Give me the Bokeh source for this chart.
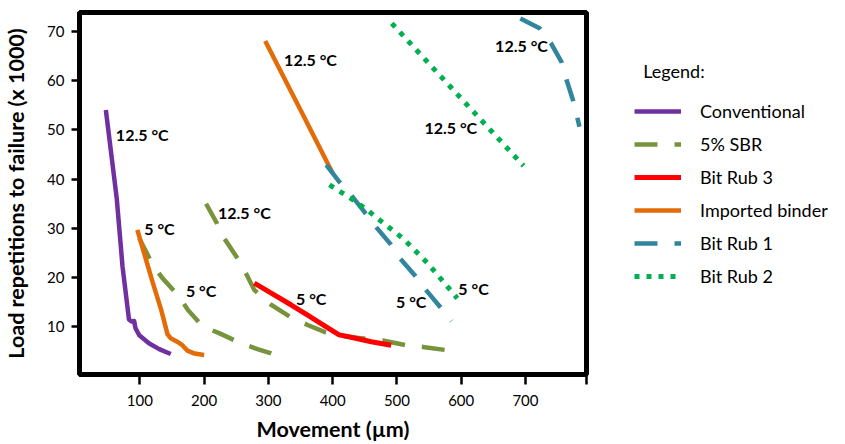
import numpy as np
from bokeh.plotting import figure
from bokeh.models import (ColumnDataSource, Legend, LegendItem, FixedTicker)
from bokeh.core.properties import value
from bokeh.embed import file_html
from bokeh.resources import INLINE

# ---------------- data ----------------
# Conventional
conv_125_x = [47, 64, 73, 83, 87, 91, 93, 99, 114, 130, 148]
conv_125_y = [54, 36, 22.2, 11.5, 11.1, 11.2, 9.8, 8.3, 6.7, 5.5, 4.5]
# 5% SBR
sbr_125_x = [203, 220, 231, 252, 265, 278, 304, 333, 361, 387, 423, 452, 480, 514, 543, 577]
sbr_125_y = [35, 31, 28, 23.9, 20.9, 17.5, 14.5, 12.1, 10.4, 9.0, 8.0, 7.6, 7.2, 6.3, 5.9, 5.3]
sbr_5_x = [99, 120, 135, 159, 175, 198, 224, 257, 283, 303, 310]
sbr_5_y = [28, 22.6, 19.9, 16.5, 13.4, 10.1, 8.7, 6.7, 5.5, 4.7, 4.3]
# Bit Rub 3
br3_5_x = [278, 305, 335, 361, 385, 400, 410, 425, 460, 491]
br3_5_y = [18.9, 16.8, 14.5, 12.4, 10.4, 9.2, 8.4, 8.0, 7.0, 6.3]
# Imported binder
imp_125_x = [295, 345, 400]
imp_125_y = [68, 55.3, 41.2]
imp_5_x = [96, 108, 120, 133, 143, 148, 158, 166, 174, 185, 200]
imp_5_y = [29.7, 24.3, 19.0, 13.5, 8.5, 7.7, 7.0, 6.3, 5.2, 4.6, 4.3]
# Bit Rub 1
br1_125_x = [692, 722, 740, 756, 764, 774, 781, 784]
br1_125_y = [72.6, 70.6, 67.5, 63.8, 60.1, 56.0, 52.3, 50.6]
br1_5_x = [390, 410, 431, 449, 468, 490, 505, 529, 545, 567, 585]
br1_5_y = [42.9, 39.5, 36.4, 33.4, 30.2, 26.8, 23.9, 20.3, 17.5, 14.1, 11.2]
# Bit Rub 2
br2_125_x = [492, 589, 697]
br2_125_y = [71.6, 57.9, 42.7]
br2_5_x = [395, 426, 455, 470, 510, 548, 594]
br2_5_y = [38.8, 36.3, 33.6, 32.0, 27.9, 22.9, 15.8]

# temperature annotations
ann_text = ["12.5 °C", "12.5 °C", "12.5 °C", "12.5 °C", "12.5 °C",
            "5 °C", "5 °C", "5 °C", "5 °C", "5 °C"]
ann_x = [62.6, 221.5, 324.4, 542.7, 652.8, 106.7, 171.6, 342.9, 498.6, 595.6]
ann_y = [49.1, 33.3, 64.2, 50.4, 67.2, 29.9, 17.3, 15.7, 15.1, 17.9]

x_ticks = [100, 200, 300, 400, 500, 600, 700]
y_ticks = [10, 20, 30, 40, 50, 60, 70]

series_names = ["Conventional", "5% SBR", "Bit Rub 3", "Imported binder", "Bit Rub 1", "Bit Rub 2"]


def join(*segs):
    xs, ys = [], []
    for i, (sx, sy) in enumerate(segs):
        if i:
            xs.append(np.nan)
            ys.append(np.nan)
        xs += list(sx)
        ys += list(sy)
    return xs, ys


FONT = "Lato"

p = figure(frame_width=507, frame_height=362,
           x_range=(6, 795), y_range=(0.35, 73.8),
           output_backend="svg", toolbar_location=None,
           min_border_left=78, min_border_top=12, min_border_right=254,
           min_border_bottom=60)
p.background_fill_color = "white"
p.border_fill_color = "white"
p.outline_line_color = "black"
p.outline_line_width = 5
p.outline_line_alpha = 1.0
p.xgrid.visible = False
p.ygrid.visible = False

styles = [
    dict(color="#7030A0", width=4.5, dash="solid"),
    dict(color="#77933C", width=4.5, dash="23 17"),
    dict(color="#FF0000", width=5, dash="solid"),
    dict(color="#E36C09", width=4.5, dash="solid"),
    dict(color="#31859C", width=4.5, dash="23 17"),
    dict(color="#00B050", width=5, dash="5 7"),
]
data = [
    join((conv_125_x, conv_125_y)),
    join((sbr_125_x, sbr_125_y), (sbr_5_x, sbr_5_y)),
    join((br3_5_x, br3_5_y)),
    join((imp_125_x, imp_125_y), (imp_5_x, imp_5_y)),
    join((br1_125_x, br1_125_y), (br1_5_x, br1_5_y)),
    join((br2_125_x, br2_125_y), (br2_5_x, br2_5_y)),
]

items = []
for name, (xs, ys), st in zip(series_names, data, styles):
    src = ColumnDataSource(dict(x=xs, y=ys))
    r = p.line("x", "y", source=src, line_color=st["color"], line_width=st["width"],
               line_dash=st["dash"], line_join="round" if st["dash"] == "solid" else "miter")
    items.append(LegendItem(label=name, renderers=[r]))

ann_src = ColumnDataSource(dict(x=ann_x, y=ann_y, t=ann_text))
p.text("x", "y", text="t", source=ann_src, text_font=value(FONT), text_font_style="bold",
       text_font_size="16px", text_color="black", text_baseline="middle", text_align="left")

# axes
for ax in (p.xaxis[0], p.yaxis[0]):
    ax.axis_line_color = "black"
    ax.axis_line_width = 5
    ax.major_tick_line_color = "black"
    ax.major_tick_line_width = 2.5
    ax.major_tick_in = 0
    ax.minor_tick_line_color = None
    ax.major_label_text_font = FONT
    ax.major_label_text_font_size = "15px"
    ax.major_label_text_color = "black"
    ax.axis_label_text_font = FONT
    ax.axis_label_text_font_style = "bold"
    ax.axis_label_text_font_size = "21.5px"
    ax.axis_label_text_color = "black"

p.xaxis[0].ticker = FixedTicker(ticks=x_ticks + [795])
p.xaxis[0].major_label_overrides = {795: ""}
p.xaxis[0].major_tick_out = 10
p.xaxis[0].major_label_standoff = 10
p.xaxis[0].axis_label = "Movement (µm)"
p.xaxis[0].axis_label_standoff = 7

p.yaxis[0].ticker = FixedTicker(ticks=y_ticks)
p.yaxis[0].major_tick_out = 8
p.yaxis[0].major_label_standoff = 7
p.yaxis[0].axis_label = "Load repetitions to failure (x 1000)"
p.yaxis[0].axis_label_standoff = 15

legend = Legend(items=items, location="top_left", title="\u00a0\u00a0Legend:")
legend.title_text_font = FONT
legend.title_text_font_size = "18px"
legend.title_text_font_style = "normal"
legend.title_text_color = "black"
legend.title_standoff = 18
legend.label_text_font = FONT
legend.label_text_font_size = "18px"
legend.label_text_color = "black"
legend.glyph_width = 47
legend.glyph_height = 20
legend.label_height = 20
legend.spacing = 11
legend.label_standoff = 19
legend.border_line_alpha = 0
legend.background_fill_alpha = 0
legend.margin = 38
legend.padding = 10
p.add_layout(legend, "right")

open("out.html", "w").write(file_html(p, INLINE))
